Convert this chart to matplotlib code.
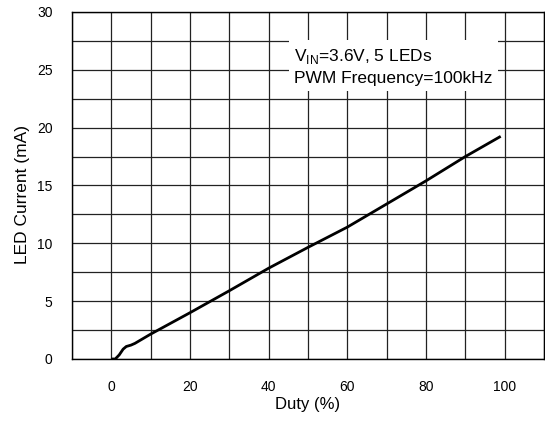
import matplotlib.pyplot as plt
import numpy as np

plt.rcParams['font.family'] = ['Liberation Sans', 'DejaVu Sans']
plt.rcParams['mathtext.fontset'] = 'custom'
plt.rcParams['mathtext.rm'] = 'Liberation Sans'

# values
duty = [0, 1, 2, 3, 3.8, 5, 6, 8, 10, 20, 30, 40, 50, 60, 70, 80, 90, 99]
led_current = [0, 0, 0.35, 0.85, 1.08, 1.2, 1.35, 1.75, 2.15, 4.0, 5.9,
               7.85, 9.65, 11.4, 13.4, 15.4, 17.5, 19.25]

x_ticks = [0, 20, 40, 60, 80, 100]
y_ticks = [0, 5, 10, 15, 20, 25, 30]

fig = plt.figure(figsize=(5.45, 4.21), dpi=100)
ax = fig.add_axes([0.1321, 0.1473, 0.866, 0.8242])

ax.set_xlim(-10, 110)
ax.set_ylim(0, 30)
ax.set_xticks(x_ticks)
ax.set_yticks(y_ticks)
ax.set_xticks(np.arange(-10, 111, 10), minor=True)
ax.set_yticks(np.arange(0, 30.1, 2.5), minor=True)
ax.grid(which='both', color='#222222', linewidth=0.9)
ax.tick_params(which='both', length=0)
ax.tick_params(axis='x', pad=15, labelsize=10)
ax.tick_params(axis='y', pad=14, labelsize=10)
for s in ax.spines.values():
    s.set_color('black')
    s.set_linewidth(1.0)
ax.set_axisbelow(True)

ax.plot(duty, led_current, color='black', linewidth=2.0, solid_capstyle='butt')

# annotation with white background hiding the grid
ax.text(46.5, 25.3, "V$_{\\mathrm{IN}}$=3.6V, 5 LEDs\nPWM Frequency=100kHz",
        fontsize=12.5, va='center', ha='left', linespacing=1.4,
        bbox=dict(boxstyle='square,pad=0.3', fc='white', ec='none'))

ax.set_xlabel('Duty (%)', fontsize=12)
ax.set_ylabel('LED Current (mA)', fontsize=12.5)
ax.xaxis.set_label_coords(0.5, -0.1326)
ax.xaxis.label.set_va('center')
ax.yaxis.set_label_coords(-0.104, 0.473)
ax.yaxis.label.set_va('center')

fig.savefig('out.png', dpi=100)
